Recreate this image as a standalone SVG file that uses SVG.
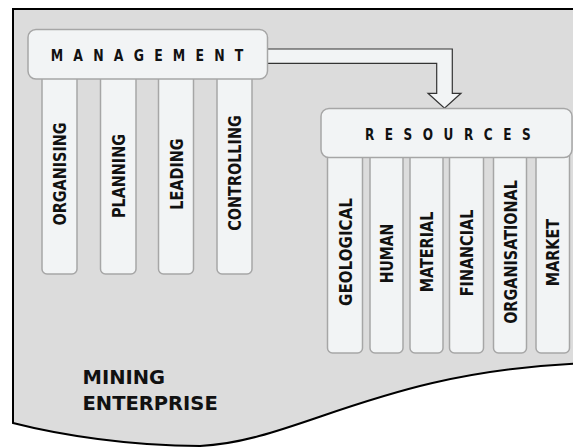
<svg xmlns="http://www.w3.org/2000/svg" width="573" height="447" viewBox="0 0 573 447">
<style>
.bg{fill:#dcdcdc;stroke:#000;stroke-width:2}
.box{fill:#f2f4f5;stroke:#a6a6a6;stroke-width:1.5}
.col{fill:#f2f4f5;stroke:#a6a6a6;stroke-width:1.5}
.lbl{fill:#111;text-anchor:middle}
.title{fill:#111}
.ent{fill:#111}
.arrow{fill:#f2f4f5;stroke:#333;stroke-width:1.2;stroke-linejoin:miter}
</style>
<rect width="573" height="447" fill="#fff"/>
<g id="enterprise">
<path class="bg" d="M13 9 V423 C60 435,130 446,200 446 C300 441,380 370,590 363 V9 Z"/>
<g font-family="DejaVu Sans, Verdana, sans-serif" font-weight="700" font-size="19.5">
<text class="ent" x="82.5" y="383.5">MINING</text>
<text class="ent" x="82.5" y="409.5">ENTERPRISE</text>
</g>
</g>
<g font-family="DejaVu Sans, Verdana, sans-serif" font-weight="700" font-size="18">
<g id="organising"><rect class="col" x="42" y="70" width="35" height="204" rx="5"/><text class="lbl" transform="translate(59.5,174) rotate(-90) scale(0.8,1)" y="6.6">ORGANISING</text></g>
<g id="planning"><rect class="col" x="100.5" y="70" width="35.5" height="204" rx="5"/><text class="lbl" transform="translate(118.2,176) rotate(-90) scale(0.8,1)" y="6.6">PLANNING</text></g>
<g id="leading"><rect class="col" x="158.5" y="70" width="35" height="204" rx="5"/><text class="lbl" transform="translate(176,174) rotate(-90) scale(0.8,1)" y="6.6">LEADING</text></g>
<g id="controlling"><rect class="col" x="217" y="70" width="35" height="204" rx="5"/><text class="lbl" transform="translate(234.5,173) rotate(-90) scale(0.8,1)" y="6.6">CONTROLLING</text></g>
<g id="geological"><rect class="col" x="327.5" y="150" width="35" height="203" rx="5"/><text class="lbl" transform="translate(345,252) rotate(-90) scale(0.84,1)" y="6.6">GEOLOGICAL</text></g>
<g id="human"><rect class="col" x="370" y="150" width="33" height="203" rx="5"/><text class="lbl" transform="translate(386.5,253.5) rotate(-90) scale(0.78,1)" y="6.6">HUMAN</text></g>
<g id="material"><rect class="col" x="410" y="150" width="33" height="203" rx="5"/><text class="lbl" transform="translate(426.5,252) rotate(-90) scale(0.8,1)" y="6.6">MATERIAL</text></g>
<g id="financial"><rect class="col" x="449.5" y="150" width="34" height="203" rx="5"/><text class="lbl" transform="translate(466.5,253) rotate(-90) scale(0.8,1)" y="6.6">FINANCIAL</text></g>
<g id="organisational"><rect class="col" x="493.5" y="150" width="33" height="203" rx="5"/><text class="lbl" transform="translate(510,252) rotate(-90) scale(0.8,1)" y="6.6">ORGANISATIONAL</text></g>
<g id="market"><rect class="col" x="536" y="150" width="33.5" height="203" rx="5"/><text class="lbl" transform="translate(552.7,252.5) rotate(-90) scale(0.8,1)" y="6.6">MARKET</text></g>
</g>
<g id="connectors">
<path class="arrow" d="M260 49 H452.3 V93.3 H461 L444.5 108.3 L428 93.3 H436.7 V63.3 H260 Z"/>
</g>
<g font-family="DejaVu Sans, Verdana, sans-serif" font-weight="700">
<g id="management">
<rect class="box" x="28" y="29.5" width="239.5" height="49.5" rx="8"/>
<text class="title" font-size="16" transform="translate(50.7,61) scale(0.78,1)" letter-spacing="13.1">MANAGEMENT</text>
</g>
<g id="resources">
<rect class="box" x="321" y="108.5" width="251" height="49" rx="8"/>
<text class="title" font-size="15.5" transform="translate(365,139.5) scale(0.78,1)" letter-spacing="13.5">RESOURCES</text>
</g>
</g>
</svg>
